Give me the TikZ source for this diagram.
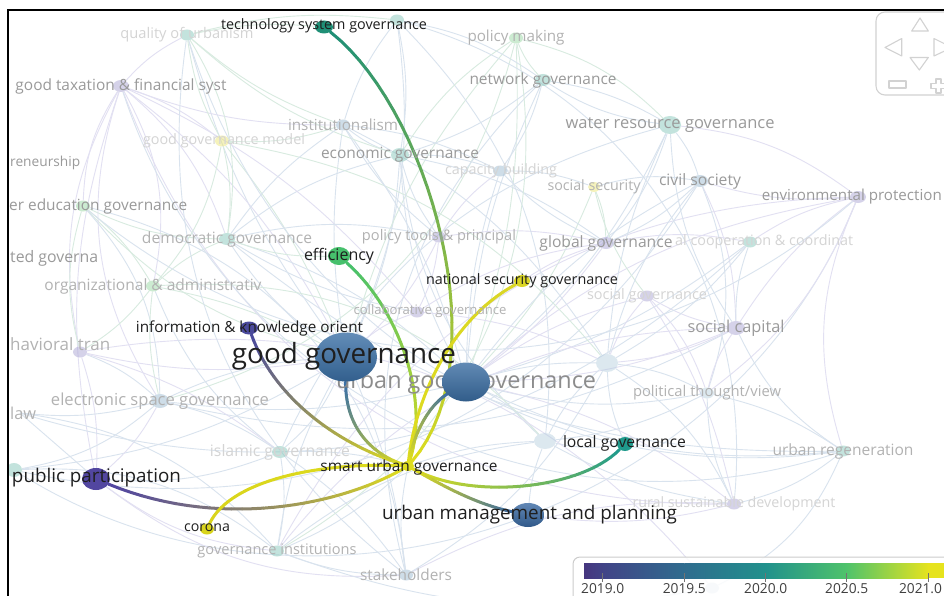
\documentclass[tikz,border=0pt]{standalone}
\usepackage{fontspec}
\setmainfont{Open Sans}
\usetikzlibrary{shapes.geometric}
\definecolor{cY}{HTML}{DEDC1E}
\definecolor{cTSG}{HTML}{1F8F76}
\definecolor{cEFF}{HTML}{46C06C}
\definecolor{cNSG}{HTML}{DAD625}
\definecolor{cIKN}{HTML}{4B4A9C}
\definecolor{cGG}{HTML}{3B70A6}
\definecolor{cUGG}{HTML}{3A6DA2}
\definecolor{cPP}{HTML}{5246A0}
\definecolor{cCOR}{HTML}{D9D41C}
\definecolor{cLG}{HTML}{1F9A8C}
\definecolor{cUMP}{HTML}{3A69A2}
\definecolor{fTeal}{HTML}{7CC2B4}
\definecolor{fGreen}{HTML}{8ED49A}
\definecolor{fPurp}{HTML}{A39DD0}
\definecolor{fBlue}{HTML}{93B4CC}
\definecolor{fYel}{HTML}{E9E36A}
\definecolor{fLblue}{HTML}{B3CCDD}
\definecolor{eB}{HTML}{D9E3EE}
\definecolor{eG}{HTML}{D8EBE0}
\definecolor{eP}{HTML}{E2E0F2}
\definecolor{tA}{HTML}{9A9A9A}
\definecolor{tB}{HTML}{B2B2B2}
\definecolor{tC}{HTML}{D4D4D4}
\definecolor{navc}{HTML}{D2D2D2}
\definecolor{v0}{HTML}{46367F}
\definecolor{v1}{HTML}{414487}
\definecolor{v2}{HTML}{2F6C8E}
\definecolor{v3}{HTML}{21918C}
\definecolor{v4}{HTML}{4FC36B}
\definecolor{v5}{HTML}{E6E31E}
\newcommand\fw[2]{\resizebox{#1pt}{!}{#2}}
\newcommand\gradedge[6]{%
  \path (#1) .. controls #2 and #3 .. (#4)
    foreach \k [evaluate=\k as \tq using \k/30] in {0,...,30}{ coordinate[pos=\tq] (gq\k) };
  \foreach \k [evaluate=\k as \kn using int(\k+1), evaluate=\k as \pc using int(100*\k/29)] in {0,...,29}
    \draw[mainedge, draw=#6!\pc!#5] (gq\k) -- (gq\kn);
}
\pgfdeclarelayer{bgl}
\pgfdeclarelayer{top}
\pgfsetlayers{bgl,main,top}
\tikzset{
  dot/.style 2 args={ellipse, inner sep=0pt, minimum width=#1pt, minimum height=#2pt},
  fdot/.style={fill opacity=0.45},
  lab/.style={inner sep=0pt, text=black!88},
  flab/.style={inner sep=0pt},
  bgedge/.style={line width=0.9pt},
  mainedge/.style={line width=3pt, line cap=round},
  navline/.style={draw=navc, line width=1.1pt, line join=round},
  bignode/.style 2 args={top color=#1, bottom color=#2}
}
\begin{document}
\begin{tikzpicture}[x=1pt,y=-1pt]
\useasboundingbox (0,0) rectangle (944,596);
\begin{pgfonlayer}{bgl}
\fill[white] (0,0) rectangle (944,596);
\end{pgfonlayer}
% ================= nodes (main layer) =================
\begin{scope}
\clip (9,11) rectangle (944,596);
\foreach \n/\x/\y/\w/\h/\c in {
 qu/187/35/14/11/fTeal, tp/397/20/14/11/fTeal, pm/516/38/14/11/fGreen,
 ng/543/80/16/12/fTeal, gt/121/86/16/12/fPurp, in/343/125/14/11/fBlue,
 wr/670/125/22/18/fTeal, gm/222/141/14/11/fYel, eg/400/155/18/14/fTeal,
 cb/500/171/14/11/fBlue, ss/594/187/12/10/fYel, cs/700/181/16/12/fBlue,
 ep/858/197/16/12/fPurp, he/83/206/14/11/fGreen, dg/227/239/16/12/fTeal,
 pt/439/237/14/11/fPurp, gl/606/243/16/12/fPurp, ic/750/242/14/11/fTeal,
 og/153/286/14/11/fGreen, sg/647/296/14/11/fPurp, cg/417/312/14/11/fPurp,
 sc/736/328/18/14/fPurp, bt/80/352/14/11/fPurp, u1/607/363/22/18/fLblue,
 es/160/401/18/14/fBlue, po/707/393/14/11/fLblue, u2/545/441/22/16/fLblue,
 ur/843/451/14/11/fTeal, ig/280/452/16/12/fTeal, lf/14/470/16/14/fTeal,
 rs/734/504/14/11/fPurp, gi/277/551/14/11/fTeal, sk/406/575/14/11/fBlue,
 rg/712/588/14/11/fBlue}
 \node[dot={\w}{\h}, fill=\c, fdot] (\n) at (\x,\y) {};
\coordinate (la) at (20,413);
% faint labels
\node[flab, text=tC] (quL) at (qu) {\fw{133}{quality of urbanism}};
\node[flab, text=tB] (pmL) at (pm) {\fw{97}{policy making}};
\node[flab, text=tA] (ngL) at (ng) {\fw{147}{network governance}};
\node[flab, text=tA] (gtL) at (gt) {\fw{211}{good taxation \& financial syst}};
\node[flab, text=tB] (inL) at (in) {\fw{110}{institutionalism}};
\node[flab, text=tA] (wrL) at (wr) {\fw{209}{water resource governance}};
\node[flab, text=tC] (gmL) at (224,141) {\fw{162}{good governance model}};
\node[flab, text=tA] (egL) at (eg) {\fw{158}{economic governance}};
\node[flab, text=tC] (cbL) at (501,171) {\fw{112}{capacity building}};
\node[flab, text=tB] (ssL) at (ss) {\fw{93}{social security}};
\node[flab, text=tA] (csL) at (cs) {\fw{82}{civil society}};
\node[flab, text=tA, anchor=east] (epL) at (942,197) {\fw{180}{environmental protection}};
\node[flab, text=tA, anchor=west] (enL) at (10,163) {\fw{70}{reneurship}};
\node[flab, text=tA, anchor=west] (heL) at (9,206) {\fw{178}{er education governance}};
\node[flab, text=tB] (dgL) at (dg) {\fw{170}{democratic governance}};
\node[flab, text=tB] (ptL) at (439,237) {\fw{154}{policy tools \& principal}};
\node[flab, text=tA] (glL) at (gl) {\fw{133}{global governance}};
\node[flab, text=tC, anchor=west] (icL) at (675,242) {\fw{178}{al cooperation \& coordinat}};
\node[flab, text=tA, anchor=west] (tgL) at (10,258) {\fw{88}{ted governa}};
\node[flab, text=tB] (ogL) at (og) {\fw{217}{organizational \& administrativ}};
\node[flab, text=tC] (sgL) at (sg) {\fw{120}{social governance}};
\node[flab, text=tB] (cgL) at (430,311) {\fw{153}{collaborative governance}};
\node[flab, text=tA] (scL) at (sc) {\fw{97}{social capital}};
\node[flab, text=tB, anchor=west] (btL) at (10,344) {\fw{100}{havioral tran}};
\node[flab, text=tB] (esL) at (es) {\fw{218}{electronic space governance}};
\node[flab, text=tB, anchor=west] (laL) at (10,413) {\fw{26}{law}};
\node[flab, text=tB] (poL) at (po) {\fw{148}{political thought/view}};
\node[flab, text=tB] (urL) at (ur) {\fw{141}{urban regeneration}};
\node[flab, text=tC] (igL) at (ig) {\fw{140}{islamic governance}};
\node[flab, text=tC] (rsL) at (rs) {\fw{203}{rural sustainable development}};
\node[flab, text=tB] (giL) at (gi) {\fw{159}{governance institutions}};
\node[flab, text=tB] (skL) at (sk) {\fw{92}{stakeholders}};
\node[flab, text=black!45] (uggL) at (466,382) {\fw{260}{urban good governance}};
% main nodes
\node[dot={62}{49}, bignode={cGG!80!white}{cGG!85!black}] (gg) at (346,357) {};
\node[dot={48}{39}, bignode={cUGG!80!white}{cUGG!85!black}] (ugg) at (466,382) {};
\node[dot={33}{24}, bignode={cUMP!80!white}{cUMP!85!black}] (ump) at (528,515) {};
\node[dot={28}{22}, fill=cPP] (pp) at (96,479) {};
\node[dot={18}{13}, fill=cTSG] (tsg) at (324,27) {};
\node[dot={22}{18}, fill=cEFF] (eff) at (339,256) {};
\node[dot={16}{12}, fill=cNSG] (nsg) at (522,281) {};
\node[dot={18}{13}, fill=cIKN] (ikn) at (249,328) {};
\node[dot={14}{11}, fill=cCOR] (cor) at (207,529) {};
\node[dot={16}{14}, fill=cLG] (lg) at (625,444) {};
\node[dot={12}{10}, fill=cY] (sug) at (408,466) {};
\end{scope}
% ================= edges (background layer) =================
\begin{pgfonlayer}{bgl}
\begin{scope}
\clip (9,11) rectangle (944,596);
\foreach \a/\b/\c/\col in {
 gg/qu/10/eB, gg/gt/-12/eP, gg/in/8/eB, gg/eg/-10/eB, gg/dg/10/eB, gg/og/-8/eG,
 gg/bt/10/eP, gg/es/-10/eB, gg/ig/12/eB, gg/gi/-10/eB, gg/sk/8/eB, gg/he/15/eG,
 gg/gm/-8/eG, gg/cg/10/eP, gg/pt/-10/eP, gg/lf/12/eB, gg/tp/-15/eB, gg/pm/12/eG,
 ugg/pm/-10/eG, ugg/ng/10/eB, ugg/wr/-12/eB, ugg/cb/8/eB, ugg/ss/-10/eG,
 ugg/cs/12/eB, ugg/gl/-8/eP, ugg/sg/10/eP, ugg/sc/-10/eP, ugg/u1/8/eB,
 ugg/po/-12/eB, ugg/u2/10/eB, ugg/ur/-15/eB, ugg/rs/12/eP, ugg/ic/-10/eB,
 ugg/ep/15/eP, ugg/in/-10/eB, ugg/eg/12/eB, ugg/es/10/eB, ugg/dg/-12/eB,
 wr/cs/10/eB, wr/ng/-10/eB, wr/ep/15/eP, cs/ep/-10/eP, cs/sc/12/eP, sc/ep/10/eP,
 sc/ur/-15/eB, po/ur/10/eB, ep/ic/-10/eP, gt/qu/10/eP, gt/he/-15/eP, gt/og/20/eP,
 gt/bt/-20/eP, qu/tp/10/eG, qu/in/-10/eG, tp/ng/12/eB, pm/ng/-10/eG, ng/eg/10/eB,
 in/eg/-10/eB, eg/cb/10/eB, dg/og/-10/eG, dg/eg/12/eB, es/bt/-10/eB, es/pp/10/eP,
 pp/la/0/eB, pp/ig/-12/eB, ig/gi/10/eB, gi/sk/-10/eB, sk/rs/15/eP, rs/ur/-12/eB,
 u1/po/10/eB, u2/lg/-10/eB, gl/ic/10/eP, sg/sc/-10/eP, ss/cs/12/eB, cb/pt/-10/eP,
 pt/gl/10/eP, he/dg/-12/eG, gt/rs/-35/eP, qu/ur/-40/eB, he/sk/35/eB, ep/gi/-30/eP,
 tp/u2/25/eB, pm/es/30/eG, wr/ig/-25/eB, ng/sk/-30/eB, gm/u1/20/eG, cs/lf/35/eB,
 sc/gi/-25/eP, ur/gt/45/eB, lf/ep/-50/eB, u1/sk/15/eB, u2/gi/-15/eB, sg/rs/10/eP,
 eg/u2/-20/eB, in/u1/15/eB, dg/ur/-20/eB, og/u2/25/eG, es/sc/-20/eB, bt/rg/30/eP,
 sug/u2/8/eB, sug/sk/-10/eB, sug/gi/10/eB, sug/ig/-8/eB, lg/u1/10/eB, ump/rs/-10/eP,
 ump/u2/8/eB, pp/gt/15/eP, pp/bt/-10/eP, eff/dg/10/eG, tsg/qu/-8/eG, nsg/gl/8/eP,
 gt/gm/10/eP, gt/in/-10/eP, gt/dg/15/eP, gt/es/-25/eP, gt/cg/12/eP, qu/gm/-10/eG,
 qu/dg/20/eG, qu/eg/-12/eG, he/og/10/eG, he/bt/-15/eG, he/es/20/eB, og/es/-10/eG,
 og/bt/10/eG, og/ig/-15/eB, bt/ig/10/eP, la/es/-10/eB, la/gi/20/eB, lf/es/-15/eB,
 lf/gi/20/eB, pp/gi/-15/eP, pp/sk/-20/eP, dg/in/10/eB, dg/cg/-10/eB, dg/pt/12/eB,
 in/pt/-10/eB, in/cb/10/eB, eg/pt/-10/eB, eg/gl/12/eB, cb/ss/10/eB, cb/gl/-10/eB,
 ss/gl/10/eG, ss/sg/-12/eG, ng/cb/10/eB, ng/wr/-12/eB, pm/wr/15/eG, pm/eg/-12/eG,
 tp/eg/10/eB, tp/in/-10/eB, wr/sc/-15/eB, wr/gl/10/eB, wr/u1/-10/eB, cs/gl/10/eB,
 cs/u1/-12/eB, cs/po/20/eB, ic/sc/-10/eB, ic/u1/10/eB, sg/u1/-10/eP, sg/po/12/eP,
 sc/po/-10/eP, sc/u1/10/eP, u1/u2/-10/eB, u1/rs/15/eB, po/rs/-12/eB, po/u2/10/eB,
 u2/rs/-10/eB, ur/rg/20/eB, ep/ur/-20/eP, ep/po/15/eP, gi/rg/-15/eB, ig/sk/10/eB,
 ig/es/-10/eB, cg/u1/10/eP, cg/pt/-10/eP, cg/gl/12/eP, gm/dg/10/eG, gm/in/-10/eG,
 gm/og/15/eG, qu/sk/-30/eB, pm/gi/35/eG, he/ep/-40/eB, la/ic/-30/eB, tp/rs/40/eB}
 \draw[bgedge, draw=\col] (\a) to[bend left=\c] (\b);
% main coloured edges
\gradedge{tsg}{(430,110)}{(500,360)}{sug}{cTSG}{cY}
\gradedge{eff}{(400,310)}{(430,400)}{sug}{cEFF}{cY}
\gradedge{nsg}{(450,320)}{(415,400)}{sug}{cNSG}{cY}
\gradedge{ikn}{(275,400)}{(340,445)}{sug}{cIKN}{cY}
\gradedge{gg}{(345,430)}{(375,455)}{sug}{cGG}{cY}
\gradedge{ugg}{(430,405)}{(415,430)}{sug}{cUGG}{cY}
\gradedge{pp}{(220,530)}{(340,505)}{sug}{cPP}{cY}
\gradedge{cor}{(230,480)}{(320,462)}{sug}{cCOR}{cY}
\gradedge{lg}{(580,490)}{(470,500)}{sug}{cLG}{cY}
\gradedge{ump}{(480,505)}{(450,490)}{sug}{cUMP}{cY}
\end{scope}
\end{pgfonlayer}
% ================= top layer: labels, navigation, legend, frame =================
\begin{pgfonlayer}{top}
\begin{scope}
\clip (9,11) rectangle (944,596);
\node[lab] (tsgL) at (324,26) {\fw{206}{technology system governance}};
\node[lab] (effL) at (339,256) {\fw{70}{efficiency}};
\node[lab] (nsgL) at (522,281) {\fw{192}{national security governance}};
\node[lab] (iknL) at (249.5,328) {\fw{227}{information \& knowledge orient}};
\node[lab] (ggL) at (344,356) {\fw{224}{good governance}};
\node[lab] (sugL) at (409,467) {\fw{177}{smart urban governance}};
\node[lab] (ppL) at (96.5,478) {\fw{169}{public participation}};
\node[lab] (corL) at (207,528) {\fw{46}{corona}};
\node[lab] (lgL) at (624.5,443) {\fw{123}{local governance}};
\node[lab] (umpL) at (529.5,515) {\fw{295}{urban management and planning}};
% navigation box
\draw[navline, fill=white, fill opacity=0.75, rounded corners=9pt] (876,12) rectangle (960,95);
\draw[navline] (911.7,31) -- (928.3,31) -- (920,18) -- cycle;
\draw[navline] (885,47.5) -- (901.7,38.5) -- (901.7,56) -- cycle;
\draw[navline] (934,38.5) -- (952,47.5) -- (934,56) -- cycle;
\draw[navline] (910,57.5) -- (928.3,57.5) -- (919.3,70) -- cycle;
\draw[navline] (889,81) rectangle (906,88);
\draw[navline] (936,79) -- (941,79) -- (941,83.5) -- (946,83.5) -- (946,88.5) -- (941,88.5) -- (941,93) -- (936,93) -- (936,88.5) -- (931,88.5) -- (931,83.5) -- (936,83.5) -- cycle;
% legend
\draw[draw=black!20, line width=1pt, fill=white, fill opacity=0.85, rounded corners=7pt] (573,557) rectangle (965,615);
\shade[left color=v0, right color=v1] (584,563) rectangle (603.2,578);
\shade[left color=v1, right color=v2] (603,563) rectangle (684.7,578);
\shade[left color=v2, right color=v3] (684.3,563) rectangle (766,578);
\shade[left color=v3, right color=v4] (765.7,563) rectangle (847,578);
\shade[left color=v4, right color=v5] (846.7,563) rectangle (928.6,578);
\fill[v5] (928.3,563) rectangle (944,578);
\foreach \x/\lx/\t [count=\i] in {602.7/602.7/2019.0, 684.3/684.3/2019.5, 765.7/765.7/2020.0, 846.7/846.7/2020.5, 928.3/920.5/2021.0} {
  \draw[black!55, line width=1pt] (\x,573) -- (\x,582);
  \node[inner sep=0pt, text=black!75] (tick\i) at (\lx,588.5) {\fw{43}{\t}};
}
\end{scope}
\draw[line width=2pt] (8,597) -- (8,10) -- (945,10);
\end{pgfonlayer}
\end{tikzpicture}
\end{document}
